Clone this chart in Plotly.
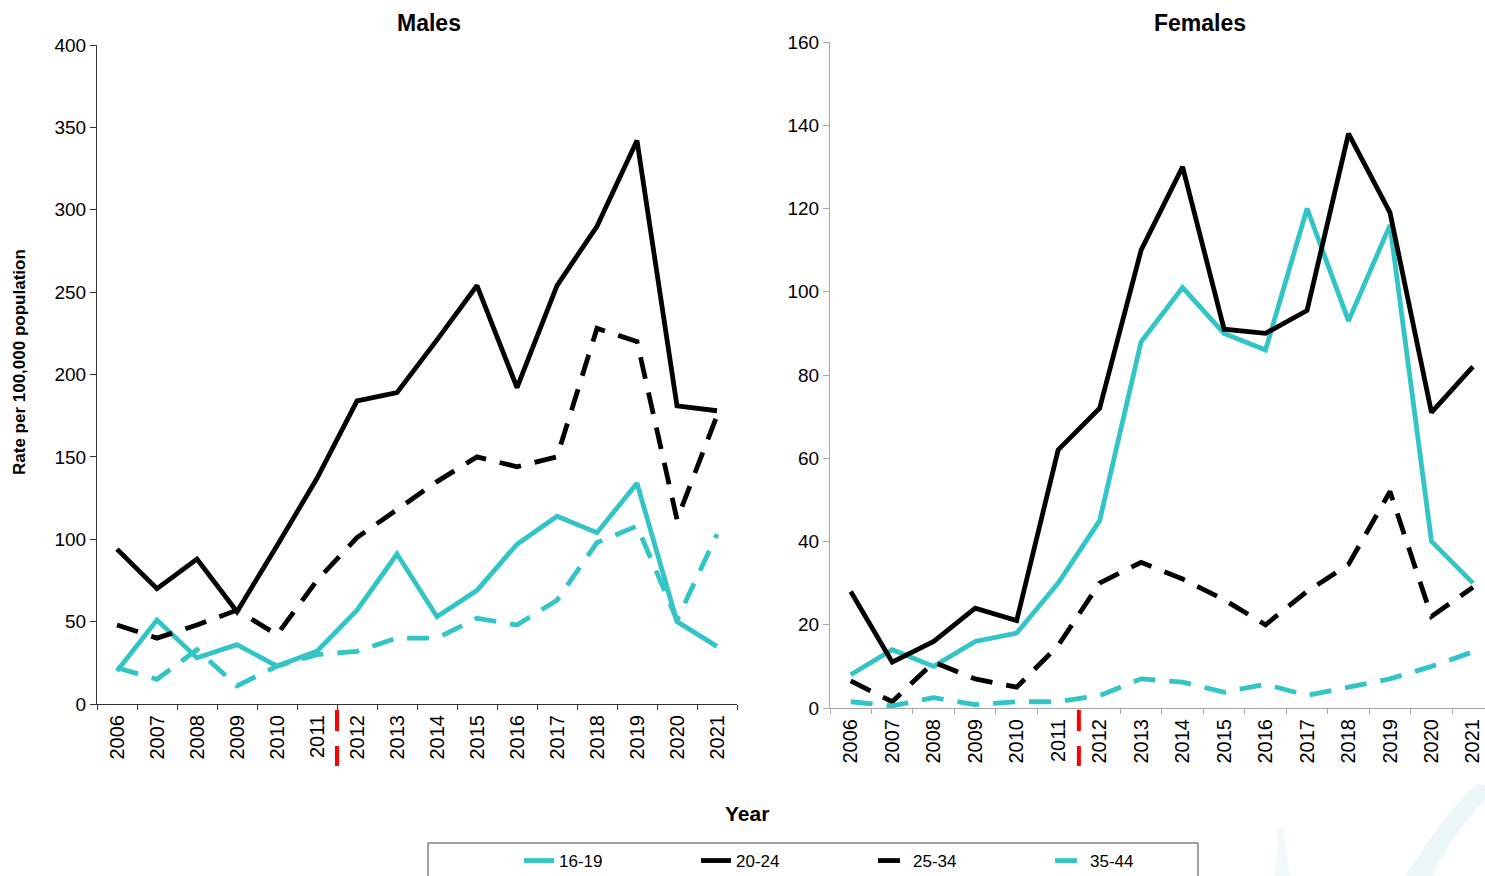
import plotly.graph_objects as go

years = [str(y) for y in range(2006, 2022)]

# Males (rate per 100,000)
m_16_19 = [20, 51, 28, 36, 23, 32, 57, 91, 53, 69, 97, 114, 104, 134, 50, 35]
m_20_24 = [94, 70, 88, 56, 96, 137, 184, 189, 221, 254, 192, 254, 290, 342, 181, 178]
m_25_34 = [48, 40, 48, 57, 42, 75, 101, 118, 135, 150, 144, 150, 228, 220, 112, 175]
m_35_44 = [22, 15, 33, 11, 23, 30, 32, 40, 40, 52, 48, 63, 98, 108, 51, 103]

# Females (rate per 100,000)
f_16_19 = [8, 14, 10, 16, 18, 30, 45, 88, 101, 90, 86, 120, 93, 116, 40, 30]
f_20_24 = [28, 11, 16, 24, 21, 62, 72, 110, 130, 91, 90, 95.5, 138, 119, 71, 82]
f_25_34 = [6.5, 1.5, 11, 7, 5, 15, 30, 35, 31, 26, 20, 28, 34.5, 52, 22, 29]
f_35_44 = [1.5, 0.5, 2.5, 0.8, 1.5, 1.5, 3, 7, 6.2, 3.8, 5.7, 3, 5, 7, 10, 13.5]

age_groups = ["16-19", "20-24", "25-34", "35-44"]
male_ticks = [0, 50, 100, 150, 200, 250, 300, 350, 400]
female_ticks = [0, 20, 40, 60, 80, 100, 120, 140, 160]

W, H = 1485, 876
CYAN = "#33C4C6"
BLACK = "#000000"
styles = {
    "16-19": dict(color=CYAN, dash="solid"),
    "20-24": dict(color=BLACK, dash="solid"),
    "25-34": dict(color=BLACK, dash="22px,14px"),
    "35-44": dict(color=CYAN, dash="22px,14px"),
}

def px(x):
    return x / W

def py(y):
    return (H - y) / H

fig = go.Figure()
male_series = dict(zip(age_groups, [m_16_19, m_20_24, m_25_34, m_35_44]))
female_series = dict(zip(age_groups, [f_16_19, f_20_24, f_25_34, f_35_44]))

for g in age_groups:
    st = styles[g]
    fig.add_trace(go.Scatter(x=years, y=male_series[g], mode="lines", name=g,
                             line=dict(color=st["color"], width=4.8, dash=st["dash"]),
                             xaxis="x", yaxis="y", legendgroup=g, showlegend=True))
for g in age_groups:
    st = styles[g]
    fig.add_trace(go.Scatter(x=years, y=female_series[g], mode="lines", name=g,
                             line=dict(color=st["color"], width=4.8, dash=st["dash"]),
                             xaxis="x2", yaxis="y2", legendgroup=g, showlegend=False))

SANS = "Liberation Sans, Arial, sans-serif"

xcommon = dict(type="category", tickson="boundaries", ticks="outside", ticklen=5,
               tickangle=-90, showgrid=False, zeroline=False, showline=True, linewidth=1,
               automargin=False, ticklabelstandoff=2,
               tickfont=dict(family=SANS, size=20, color="#000"), fixedrange=True)
ycommon = dict(ticks="outside", ticklen=6, showgrid=False, zeroline=False, showline=True,
               linewidth=1, automargin=False,
               tickfont=dict(family=SANS, size=19, color="#000"))

fig.update_layout(
    width=W, height=H,
    margin=dict(l=0, r=0, t=0, b=0, autoexpand=False),
    paper_bgcolor="white", plot_bgcolor="white",
    xaxis=dict(**xcommon, domain=[px(97), px(737)], anchor="y", range=[-0.5, 15.5],
               linecolor="#333", tickcolor="#333"),
    yaxis=dict(**ycommon, domain=[py(704), py(45)], anchor="x", range=[0, 400],
               tickvals=male_ticks, linecolor="#333", tickcolor="#333"),
    xaxis2=dict(**xcommon, domain=[px(830), 1.0], anchor="y2", range=[-0.5, 15.29],
                linecolor="#A6A6A6", tickcolor="#A6A6A6"),
    yaxis2=dict(**ycommon, domain=[py(708), py(42)], anchor="x2", range=[0, 160],
                tickvals=female_ticks, linecolor="#A6A6A6", tickcolor="#A6A6A6"),
    legend=dict(orientation="h", x=px(519), xanchor="left", y=py(861), yanchor="middle",
                font=dict(family=SANS, size=17, color="#000"),
                entrywidth=132, entrywidthmode="pixels", bgcolor="rgba(0,0,0,0)",
                itemclick=False, itemdoubleclick=False, tracegroupgap=0),
    showlegend=True,
)

annotations = [
    dict(text="<b>Males</b>", x=px(429), y=py(23), xref="paper", yref="paper",
         xanchor="center", yanchor="middle", showarrow=False,
         font=dict(family=SANS, size=23, color="#000")),
    dict(text="<b>Females</b>", x=px(1200), y=py(23), xref="paper", yref="paper",
         xanchor="center", yanchor="middle", showarrow=False,
         font=dict(family=SANS, size=23, color="#000")),
    dict(text="<b>Rate per 100,000 population</b>", x=px(20), y=py(362), xref="paper",
         yref="paper", xanchor="center", yanchor="middle", showarrow=False, textangle=-90,
         font=dict(family=SANS, size=17, color="#000")),
    dict(text="<b>Year</b>", x=px(747), y=py(813), xref="paper", yref="paper",
         xanchor="center", yanchor="middle", showarrow=False,
         font=dict(family=SANS, size=21, color="#000")),
]
fig.update_layout(annotations=annotations)

shapes = []
# series break markers between 2011 and 2012
for xr in ["x", "x2"]:
    for (a, b) in [(710, 731), (746, 766)]:
        shapes.append(dict(type="line", xref=xr, yref="paper", x0=5.5, x1=5.5,
                           y0=py(a), y1=py(b), line=dict(color="#FF0000", width=4)))
# legend box
shapes.append(dict(type="rect", xref="paper", yref="paper", x0=px(428), x1=px(1198),
                   y0=py(890), y1=py(843), line=dict(color="#444", width=1),
                   fillcolor="rgba(0,0,0,0)", layer="below"))
# faint watermark swooshes
shapes.append(dict(type="path", xref="paper", yref="paper",
                   path=f"M {px(1405)},{py(876)} Q {px(1440)},{py(820)} {px(1475)},{py(785)} "
                        f"L {px(1485)},{py(785)} L {px(1485)},{py(800)} "
                        f"Q {px(1455)},{py(830)} {px(1432)},{py(876)} Z",
                   fillcolor="rgba(200,232,240,0.35)", line=dict(width=0), layer="below"))
shapes.append(dict(type="path", xref="paper", yref="paper",
                   path=f"M {px(1275)},{py(876)} L {px(1278)},{py(828)} L {px(1283)},{py(828)} "
                        f"L {px(1290)},{py(876)} Z",
                   fillcolor="rgba(210,236,242,0.3)", line=dict(width=0), layer="below"))
fig.update_layout(shapes=shapes)

fig.write_html("out.html", config={"displayModeBar": False},
               post_script="document.body.style.margin='0px';document.body.style.overflow='hidden';")
